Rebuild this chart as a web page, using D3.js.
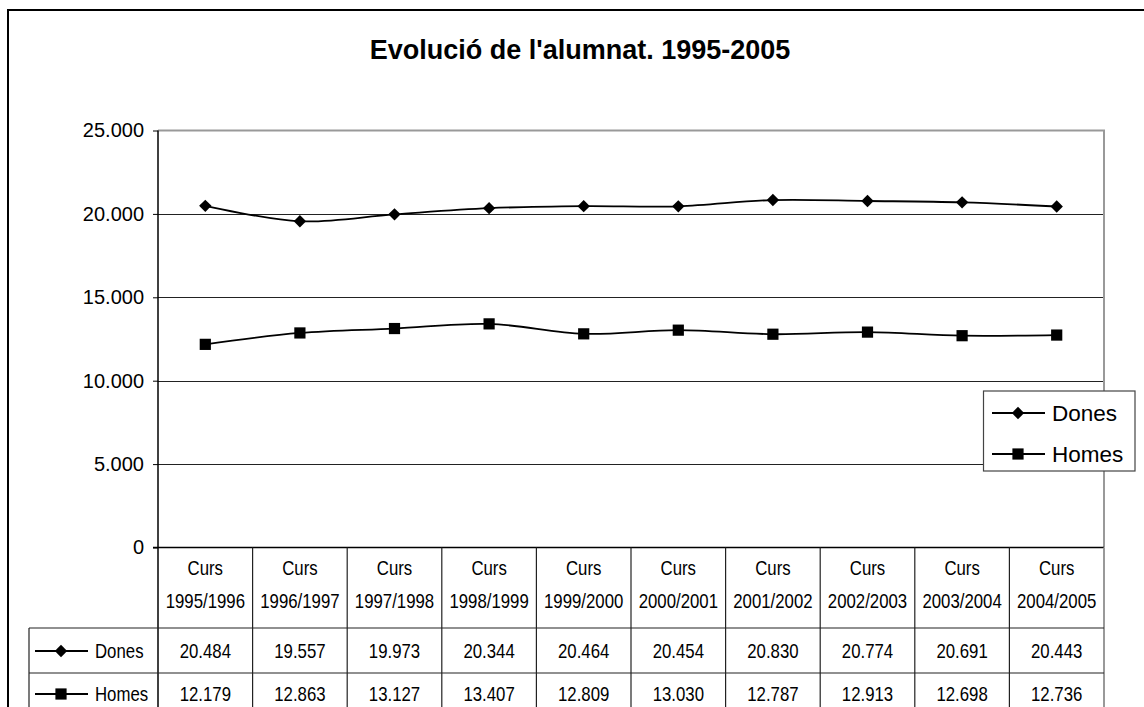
<!DOCTYPE html>
<html>
<head>
<meta charset="utf-8">
<script src="https://cdn.jsdelivr.net/npm/d3@7"></script>
<style>
  body { margin: 0; background: #fff; }
  svg { display: block; }
</style>
</head>
<body>
<svg id="chart" width="1144" height="707"></svg>
<script>
const titleText = "Evolució de l'alumnat. 1995-2005";
const categories = ["1995/1996","1996/1997","1997/1998","1998/1999","1999/2000","2000/2001","2001/2002","2002/2003","2003/2004","2004/2005"];
const catPrefix = "Curs";
const seriesNames = ["Dones","Homes"];
const dones = [20484,19557,19973,20344,20464,20454,20830,20774,20691,20443];
const homes = [12179,12863,13127,13407,12809,13030,12787,12913,12698,12736];
const yTicks = [0,5000,10000,15000,20000,25000];

const series = [
  {name: seriesNames[0], values: dones, marker: "diamond"},
  {name: seriesNames[1], values: homes, marker: "square"}
];

const svg = d3.select("#chart");
const fmt = v => d3.format(",")(v).replace(/,/g, ".");
const sansFont = "'Liberation Sans', Arial, sans-serif";
const NARROW = 0.84;

function narrowText(g, tx, ty, str, anchor) {
  return g.append("text")
    .attr("transform", `translate(${tx},${ty}) scale(${NARROW},1)`)
    .attr("text-anchor", anchor || "middle")
    .attr("font-family", sansFont).attr("font-size", 20).attr("fill", "#000")
    .text(str);
}

const L = 158, R = 1104, T = 130.5, B = 547.5;
const x = d3.scaleBand().domain(categories).range([L, R]);
const y = d3.scaleLinear().domain([0, 25000]).range([B, T]);
const cxOf = i => x(categories[i]) + x.bandwidth() / 2;

// outer frame
svg.append("rect").attr("x", 8).attr("y", 10).attr("width", 1160).attr("height", 720)
  .attr("fill", "none").attr("stroke", "#000").attr("stroke-width", 2);

// title
svg.append("text").attr("x", 580).attr("y", 59).attr("text-anchor", "middle")
  .attr("font-family", sansFont).attr("font-weight", "bold").attr("font-size", 27)
  .text(titleText);

// gridlines
svg.append("g").selectAll("line").data(yTicks.filter(t => t > 0 && t < 25000)).join("line")
  .attr("x1", L).attr("x2", R).attr("y1", d => Math.round(y(d)) + 0.5).attr("y2", d => Math.round(y(d)) + 0.5)
  .attr("stroke", "#222").attr("stroke-width", 1);

// plot border top/right gray
svg.append("path")
  .attr("d", `M${L},${T} H${R} V${B}`)
  .attr("fill", "none").attr("stroke", "#999").attr("stroke-width", 2);

// y axis
const yAxis = d3.axisLeft(y).tickValues(yTicks).tickSize(5).tickFormat(fmt);
const gy = svg.append("g").attr("transform", `translate(${L},0)`).call(yAxis);
gy.select(".domain").remove();
gy.selectAll(".tick line").attr("stroke", "#000");
gy.selectAll(".tick text").attr("font-family", sansFont).attr("font-size", 20).attr("fill", "#000").attr("x", -14);
svg.append("line").attr("x1", L).attr("x2", L).attr("y1", T).attr("y2", 707).attr("stroke", "#000").attr("stroke-width", 1.5);
svg.append("line").attr("x1", L - 5).attr("x2", R).attr("y1", B).attr("y2", B).attr("stroke", "#000").attr("stroke-width", 1.5);

// table
const rowCatBottom = 628, rowDonesBottom = 673;
const tbl = svg.append("g");
const bounds = categories.map(c => x(c)).concat([R]);
tbl.selectAll("line.v").data(bounds.slice(1)).join("line")
  .attr("x1", d => d).attr("x2", d => d).attr("y1", B).attr("y2", 707)
  .attr("stroke", (d, i) => i === bounds.length - 2 ? "#999" : "#222")
  .attr("stroke-width", (d, i) => i === bounds.length - 2 ? 2 : 1.2);
tbl.append("line").attr("x1", 29).attr("x2", 29).attr("y1", rowCatBottom).attr("y2", 707).attr("stroke", "#222").attr("stroke-width", 1.2);
[rowCatBottom, rowDonesBottom].forEach(yy => {
  tbl.append("line").attr("x1", 29).attr("x2", R).attr("y1", yy).attr("y2", yy).attr("stroke", "#222").attr("stroke-width", 1.2);
});
categories.forEach((c, i) => {
  narrowText(tbl, cxOf(i), 575, catPrefix);
  narrowText(tbl, cxOf(i), 608, c);
});

function drawMarker(g, type, cx, cy) {
  if (type === "diamond") {
    const s = 6.2;
    g.append("path").attr("d", `M${cx},${cy - s} L${cx + s},${cy} L${cx},${cy + s} L${cx - s},${cy} Z`).attr("fill", "#000");
  } else {
    const s = 5.6;
    g.append("rect").attr("x", cx - s).attr("y", cy - s).attr("width", 2 * s).attr("height", 2 * s).attr("fill", "#000");
  }
}

const rowCenters = [651, 694];
series.forEach((s, si) => {
  const cy = rowCenters[si];
  s.values.forEach((v, i) => narrowText(tbl, cxOf(i), cy + 7, fmt(v)));
  const kg = tbl.append("g");
  kg.append("line").attr("x1", 35).attr("x2", 88).attr("y1", cy).attr("y2", cy).attr("stroke", "#000").attr("stroke-width", 1.8);
  drawMarker(kg, s.marker, 61, cy);
  narrowText(kg, 95, cy + 7, s.name, "start");
});

// series lines
const line = d3.line().x((d, i) => cxOf(i)).y(d => y(d)).curve(d3.curveCatmullRom.alpha(0.5));
series.forEach(s => {
  svg.append("path").datum(s.values).attr("d", line).attr("fill", "none").attr("stroke", "#000").attr("stroke-width", 1.8);
  const mg = svg.append("g");
  s.values.forEach((v, i) => drawMarker(mg, s.marker, cxOf(i), y(v)));
});

// legend
const lg = svg.append("g");
lg.append("rect").attr("x", 983.5).attr("y", 391).attr("width", 151.5).attr("height", 80)
  .attr("fill", "#fff").attr("stroke", "#444").attr("stroke-width", 1.2);
const legY = [413, 454];
series.forEach((s, si) => {
  lg.append("line").attr("x1", 992).attr("x2", 1045).attr("y1", legY[si]).attr("y2", legY[si]).attr("stroke", "#000").attr("stroke-width", 1.8);
  drawMarker(lg, s.marker, 1018, legY[si]);
  lg.append("text").attr("x", 1052).attr("y", legY[si] + 8).attr("font-family", sansFont).attr("font-size", 22.5).text(s.name);
});
</script>
</body>
</html>
